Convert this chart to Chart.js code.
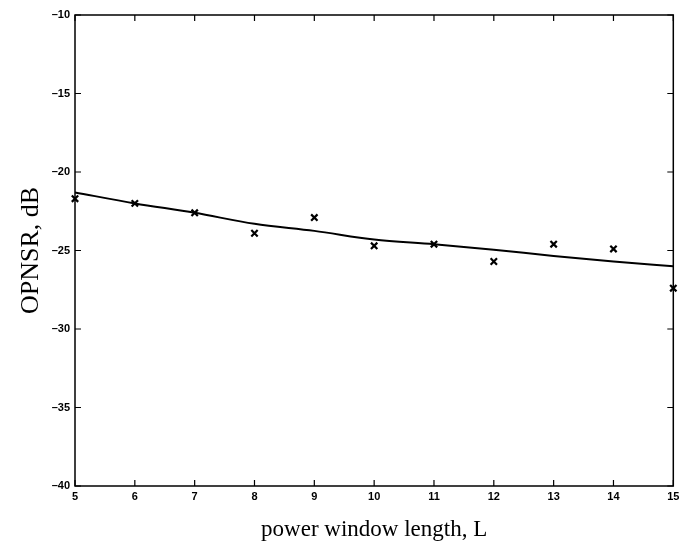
<!DOCTYPE html>
<html>
<head>
<meta charset="utf-8">
<script src="https://cdn.jsdelivr.net/npm/chart.js@4/dist/chart.umd.min.js"></script>
<style>
  html, body { margin: 0; padding: 0; background: #fff; }
  #wrap { width: 680px; height: 548px; }
</style>
</head>
<body>
<div id="wrap"><canvas id="chart" width="680" height="548"></canvas></div>
<script>
// window lengths
const windowLengths = [5, 6, 7, 8, 9, 10, 11, 12, 13, 14, 15];
// measured OPNSR (x markers)
const measuredDb = [-21.7, -22.0, -22.6, -23.9, -22.9, -24.7, -24.6, -25.7, -24.6, -24.9, -27.4];
// fitted curve (solid line)
const fittedDb = [-21.3, -22.0, -22.6, -23.3, -23.75, -24.3, -24.6, -24.95, -25.35, -25.7, -26.0];

const xTicks = [5, 6, 7, 8, 9, 10, 11, 12, 13, 14, 15];
const yTicks = [-40, -35, -30, -25, -20, -15, -10];

const toPoints = (xs, ys) => xs.map((x, i) => ({ x: x, y: ys[i] }));

// MATLAB style inward ticks on all four sides + box
const boxTicks = {
    id: 'boxTicks',
    afterDraw(chart) {
        const { ctx, chartArea: a, scales } = chart;
        ctx.save();
        ctx.strokeStyle = '#000';
        ctx.lineWidth = 1.5;
        ctx.strokeRect(a.left, a.top, a.right - a.left, a.bottom - a.top);
        ctx.lineWidth = 1.2;
        ctx.beginPath();
        xTicks.forEach(v => {
            const px = scales.x.getPixelForValue(v);
            ctx.moveTo(px, a.bottom); ctx.lineTo(px, a.bottom - 6);
            ctx.moveTo(px, a.top); ctx.lineTo(px, a.top + 6);
        });
        yTicks.forEach(v => {
            const py = scales.y.getPixelForValue(v);
            ctx.moveTo(a.left, py); ctx.lineTo(a.left + 6, py);
            ctx.moveTo(a.right, py); ctx.lineTo(a.right - 6, py);
        });
        ctx.stroke();
        ctx.restore();
    }
};

const ctx = document.getElementById('chart').getContext('2d');
new Chart(ctx, {
    type: 'scatter',
    data: {
        datasets: [
            {
                label: 'fit',
                type: 'line',
                data: toPoints(windowLengths, fittedDb),
                borderColor: '#000',
                borderWidth: 2,
                pointRadius: 0,
                cubicInterpolationMode: 'monotone',
                fill: false
            },
            {
                label: 'measured',
                data: toPoints(windowLengths, measuredDb),
                pointStyle: 'crossRot',
                pointRadius: 4.5,
                borderColor: '#000',
                borderWidth: 2.2,
                backgroundColor: '#000'
            }
        ]
    },
    options: {
        responsive: false,
        animation: false,
        clip: false,
        layout: { padding: { top: 15, right: 4, left: 12, bottom: 0 } },
        plugins: {
            legend: { display: false },
            tooltip: { enabled: false }
        },
        scales: {
            x: {
                type: 'linear',
                min: 5,
                max: 15,
                afterBuildTicks: s => { s.ticks = xTicks.map(v => ({ value: v })); },
                afterFit: s => { s.height = 62; s.paddingLeft = 0; s.paddingRight = 0; },
                grid: { display: false, drawTicks: false },
                border: { display: false },
                ticks: {
                    color: '#000',
                    padding: 4,
                    maxRotation: 0,
                    font: { family: 'Liberation Sans', size: 11, weight: 'bold' }
                },
                title: {
                    display: true,
                    text: 'power window length, L',
                    color: '#000',
                    padding: { top: 6 },
                    font: { family: 'Liberation Serif', size: 23 }
                }
            },
            y: {
                type: 'linear',
                min: -40,
                max: -10,
                afterBuildTicks: s => { s.ticks = yTicks.map(v => ({ value: v })); },
                afterFit: s => { s.width = 63; s.paddingTop = 0; s.paddingBottom = 0; },
                grid: { display: false, drawTicks: false },
                border: { display: false },
                ticks: {
                    color: '#000',
                    padding: 5,
                    callback: v => '\u2013' + Math.abs(v),
                    font: { family: 'Liberation Sans', size: 11, weight: 'bold' }
                },
                title: {
                    display: true,
                    text: 'OPNSR, dB',
                    color: '#000',
                    padding: { bottom: 4 },
                    font: { family: 'Liberation Serif', size: 26 }
                }
            }
        }
    },
    plugins: [boxTicks]
});
</script>
</body>
</html>
